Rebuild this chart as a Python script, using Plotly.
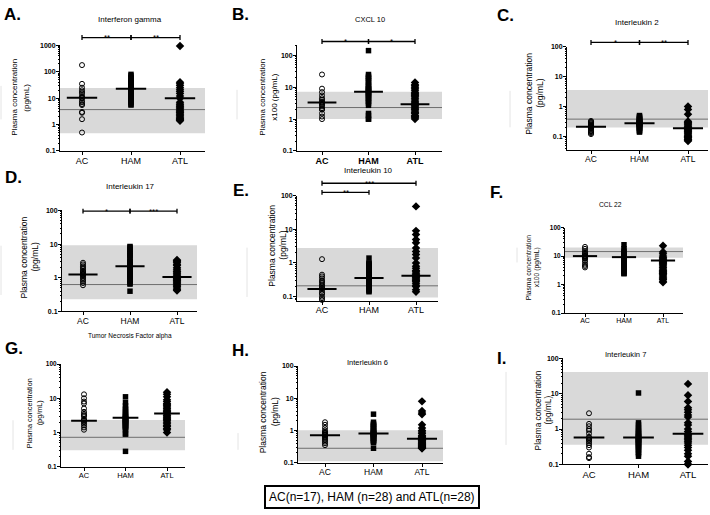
import math
import plotly.graph_objects as go

W, H = 710, 515
groups = ["AC", "HAM", "ATL"]
legend_text = "AC(n=17), HAM (n=28) and ATL(n=28)"

# ---------------- data ----------------
ifng_ac = [180, 35, 25, 20, 17, 15, 12, 10.5, 10, 8, 7, 6, 5.5, 3, 2.8, 1.6, 0.5]
ifng_ham = [80, 70, 60, 52, 46, 42, 38, 35, 32, 30, 28, 26, 24, 23, 22, 20, 18, 17, 15, 14, 12, 11, 10, 9, 8, 7, 6, 5.5]
ifng_atl = [950, 40, 35, 30, 25, 21, 18, 15, 12, 10, 7, 6, 5.5, 5, 4.5, 4, 3.6, 3.3, 3, 2.8, 2.5, 2.3, 2.1, 1.9, 1.7, 1.6, 1.5, 1.4]
ifng_median = [10.5, 23, 10]
ifng_ref = [0.47, 24.6]
ifng_refline = 3.7
ifng_sig = [("AC", "HAM", "**"), ("HAM", "ATL", "**")]

cxcl10_ac = [25, 9, 7, 5.5, 4.5, 4, 3.5, 3.3, 3, 2.8, 2.5, 2.2, 2, 2, 1.5, 1.2, 1.0]
cxcl10_ham = [140, 25, 22, 20, 18, 16, 14, 12, 11, 10, 9, 8.5, 8, 7.5, 7, 6.5, 6, 5.5, 5, 4.5, 4, 3.6, 3.2, 2.7, 1.5, 1.3, 1.0, 1.0]
cxcl10_atl = [14, 12, 11, 10, 9, 8, 7, 6.5, 6, 5.5, 5, 4.5, 4, 3.5, 3.2, 3, 2.8, 2.6, 2.4, 2.2, 2, 1.8, 1.6, 1.5, 1.3, 1.2, 1.1, 1.0]
cxcl10_median = [3.3, 7.2, 2.9]
cxcl10_ref = [1.0, 7.2]
cxcl10_refline = 2.3
cxcl10_sig = [("AC", "HAM", "*"), ("HAM", "ATL", "*")]

il2_ac = [0.33, 0.31, 0.29, 0.27, 0.25, 0.24, 0.23, 0.22, 0.21, 0.2, 0.19, 0.18, 0.16, 0.15, 0.14, 0.13, 0.12]
il2_ham = [0.5, 0.46, 0.43, 0.4, 0.38, 0.36, 0.34, 0.32, 0.31, 0.3, 0.29, 0.28, 0.28, 0.27, 0.27, 0.26, 0.25, 0.24, 0.23, 0.22, 0.21, 0.2, 0.19, 0.18, 0.16, 0.15, 0.14, 0.033]
il2_atl = [1.0, 0.8, 0.55, 0.32, 0.3, 0.28, 0.26, 0.24, 0.22, 0.2, 0.2, 0.19, 0.18, 0.17, 0.16, 0.15, 0.14, 0.13, 0.12, 0.11, 0.1, 0.1, 0.09, 0.09, 0.08, 0.08, 0.075, 0.07]
il2_median = [0.21, 0.275, 0.19]
il2_ref = [0.2, 3.55]
il2_refline = 0.38
il2_sig = [("AC", "HAM", "*"), ("HAM", "ATL", "**")]

il17_ac = [2.8, 2.5, 2.2, 2.0, 1.8, 1.6, 1.5, 1.4, 1.3, 1.25, 1.2, 1.1, 1.0, 0.9, 0.8, 0.7, 0.6]
il17_ham = [8.5, 8, 7, 6, 5.5, 5, 4.5, 4, 3.5, 3, 2.8, 2.5, 2.3, 2.2, 2.1, 2, 1.8, 1.6, 1.4, 1.3, 1.2, 1.1, 1.0, 0.9, 0.8, 0.7, 0.65, 0.4]
il17_atl = [3.4, 3.2, 3, 2.8, 2.5, 2.3, 2, 1.8, 1.6, 1.5, 1.4, 1.3, 1.2, 1.1, 1.05, 1.0, 0.95, 0.9, 0.85, 0.8, 0.75, 0.7, 0.65, 0.6, 0.55, 0.5, 0.45, 0.42]
il17_median = [1.26, 2.2, 1.05]
il17_ref = [0.23, 9.3]
il17_refline = 0.63
il17_sig = [("AC", "HAM", "*"), ("HAM", "ATL", "***")]

il10_ac = [1.3, 0.45, 0.4, 0.35, 0.3, 0.28, 0.25, 0.22, 0.2, 0.18, 0.17, 0.15, 0.13, 0.12, 0.1, 0.09, 0.08]
il10_ham = [1.4, 1.0, 0.95, 0.9, 0.85, 0.8, 0.7, 0.65, 0.6, 0.55, 0.5, 0.45, 0.42, 0.4, 0.38, 0.36, 0.34, 0.32, 0.3, 0.28, 0.26, 0.24, 0.22, 0.2, 0.18, 0.16, 0.15, 0.14]
il10_atl = [48, 9, 7, 5, 4, 2.8, 2.2, 1.8, 1.4, 1.0, 0.8, 0.7, 0.6, 0.55, 0.5, 0.45, 0.42, 0.4, 0.38, 0.35, 0.32, 0.3, 0.28, 0.25, 0.22, 0.2, 0.16, 0.14]
il10_median = [0.17, 0.36, 0.42]
il10_ref = [0.095, 2.8]
il10_refline = 0.21
il10_sig = [("AC", "ATL", "***"), ("AC", "HAM", "**")]

ccl22_ac = [21, 18, 15, 13, 12, 11, 10, 10, 9.5, 9, 8.5, 8, 7, 6, 5, 4.5, 4]
ccl22_ham = [25, 18, 15, 13, 12, 11, 10.5, 10, 9.5, 9, 8.7, 8.3, 8, 7.5, 7, 6.8, 6.5, 6, 5.5, 5, 4.5, 4.2, 4, 3.5, 3, 2.8, 2.5, 2.4]
ccl22_atl = [23, 14, 12, 10, 9, 8, 7.5, 7, 6.5, 6, 5.5, 5, 4.5, 4, 3.5, 3.2, 3, 2.8, 2.6, 2.5, 2.4, 2.2, 2, 1.8, 1.6, 1.5, 1.3, 1.2]
ccl22_median = [10, 9.2, 7]
ccl22_ref = [8.7, 20]
ccl22_refline = 14.4
ccl22_sig = []

tnf_ac = [13, 10, 8, 7, 5, 4, 3.5, 3.2, 3, 2.5, 2.3, 2.2, 2, 1.8, 1.6, 1.4, 1.2]
tnf_ham = [11, 7.5, 6, 5, 4.5, 4, 3.5, 3.2, 3, 2.8, 2.6, 2.5, 2.4, 2.3, 2.2, 2.1, 2, 1.9, 1.8, 1.7, 1.6, 1.5, 1.4, 1.3, 1.2, 0.9, 0.9, 0.28]
tnf_atl = [15, 13, 11, 9, 8, 7, 6.5, 6, 5.5, 5, 4.5, 4.2, 4, 3.7, 3.5, 3.2, 3, 2.8, 2.6, 2.4, 2.2, 2, 1.8, 1.6, 1.5, 1.3, 1.2, 1.0]
tnf_median = [2.2, 2.7, 3.6]
tnf_ref = [0.3, 2.3]
tnf_refline = 0.72
tnf_sig = []

il6_ac = [1.8, 1.5, 1.2, 1.0, 0.9, 0.85, 0.8, 0.75, 0.72, 0.7, 0.65, 0.6, 0.55, 0.5, 0.45, 0.4, 0.35]
il6_ham = [3.2, 1.8, 1.6, 1.5, 1.4, 1.3, 1.2, 1.1, 1.0, 0.95, 0.9, 0.85, 0.82, 0.8, 0.78, 0.75, 0.72, 0.7, 0.68, 0.65, 0.6, 0.58, 0.55, 0.5, 0.48, 0.45, 0.42, 0.28]
il6_atl = [8, 4, 3.5, 3.2, 1.5, 1.2, 1.0, 0.9, 0.8, 0.7, 0.65, 0.6, 0.55, 0.52, 0.5, 0.48, 0.45, 0.42, 0.4, 0.38, 0.36, 0.35, 0.33, 0.32, 0.3, 0.3, 0.28, 0.28]
il6_median = [0.71, 0.8, 0.55]
il6_ref = [0.11, 1.02]
il6_refline = 0.28
il6_sig = []

il7_ac = [2.8, 1.4, 1.2, 1.0, 0.9, 0.75, 0.6, 0.55, 0.5, 0.5, 0.45, 0.4, 0.35, 0.3, 0.2, 0.16, 0.15]
il7_ham = [10.5, 1.5, 1.3, 1.1, 1.0, 0.9, 0.8, 0.75, 0.7, 0.65, 0.6, 0.58, 0.55, 0.52, 0.5, 0.48, 0.45, 0.42, 0.4, 0.38, 0.35, 0.32, 0.3, 0.28, 0.25, 0.22, 0.2, 0.17]
il7_atl = [19, 9, 6, 4, 3.5, 3, 2.5, 2.2, 1.5, 1.3, 1.0, 0.85, 0.75, 0.7, 0.65, 0.6, 0.55, 0.5, 0.45, 0.4, 0.35, 0.3, 0.25, 0.2, 0.17, 0.12, 0.1, 0.1]
il7_median = [0.58, 0.58, 0.74]
il7_ref = [0.36, 41]
il7_refline = 1.9
il7_sig = []

panels = [
    dict(letter="A.", title="Interferon gamma", unit="(pg/mL)", vals=[ifng_ac, ifng_ham, ifng_atl],
         med=ifng_median, ref=ifng_ref, refline=ifng_refline, sig=ifng_sig),
    dict(letter="B.", title="CXCL 10", unit="x100 (pg/mL)", vals=[cxcl10_ac, cxcl10_ham, cxcl10_atl],
         med=cxcl10_median, ref=cxcl10_ref, refline=cxcl10_refline, sig=cxcl10_sig),
    dict(letter="C.", title="Interleukin 2", unit="(pg/mL)", vals=[il2_ac, il2_ham, il2_atl],
         med=il2_median, ref=il2_ref, refline=il2_refline, sig=il2_sig),
    dict(letter="D.", title="Interleukin 17", unit="(pg/mL)", vals=[il17_ac, il17_ham, il17_atl],
         med=il17_median, ref=il17_ref, refline=il17_refline, sig=il17_sig),
    dict(letter="E.", title="Interleukin 10", unit="(pg/mL)", vals=[il10_ac, il10_ham, il10_atl],
         med=il10_median, ref=il10_ref, refline=il10_refline, sig=il10_sig),
    dict(letter="F.", title="CCL 22", unit="x100 (pg/mL)", vals=[ccl22_ac, ccl22_ham, ccl22_atl],
         med=ccl22_median, ref=ccl22_ref, refline=ccl22_refline, sig=ccl22_sig),
    dict(letter="G.", title="Tumor Necrosis Factor alpha", unit="(pg/mL)", vals=[tnf_ac, tnf_ham, tnf_atl],
         med=tnf_median, ref=tnf_ref, refline=tnf_refline, sig=tnf_sig),
    dict(letter="H.", title="Interleukin 6", unit="(pg/mL)", vals=[il6_ac, il6_ham, il6_atl],
         med=il6_median, ref=il6_ref, refline=il6_refline, sig=il6_sig),
    dict(letter="I.", title="Interleukin 7", unit="(pg/mL)", vals=[il7_ac, il7_ham, il7_atl],
         med=il7_median, ref=il7_ref, refline=il7_refline, sig=il7_sig),
]

# ---------------- layout geometry (pixels) ----------------
geom = [
    dict(x0=60, x1=205, c0=82, c2=180, lo=(0.1, 149), hi=(1000, 42), ybot=149, ytop=42,
         tfs=7, xfs=9, xbold=False, title=(130, 16, 8), yt=(15, 27, 95, 8), let=(2, 11), sigy=[34, 34]),
    dict(x0=297, x1=442, c0=322, c2=415, lo=(0.1, 149), hi=(100, 52), ybot=149, ytop=42,
         tfs=7, xfs=9, xbold=True, title=(370, 16, 7.5), yt=(263, 275, 95, 8), let=(230, 11), sigy=[38, 38]),
    dict(x0=567, x1=708, c0=591, c2=688, lo=(0.1, 134.3), hi=(100, 43.3), ybot=148.3, ytop=43.3,
         tfs=7, xfs=8.5, xbold=False, title=(637, 19, 8), yt=(529, 540, 91, 8.5), let=(495, 12), sigy=[39, 39]),
    dict(x0=62, x1=197, c0=83, c2=177, lo=(0.1, 311.7), hi=(100, 209.3), ybot=311.7, ytop=209.3,
         tfs=7, xfs=8.5, xbold=False, title=(130, 185, 8), yt=(24, 35, 257, 8.5), let=(3, 176), sigy=[210, 210]),
    dict(x0=297, x1=438, c0=322, c2=416, lo=(0.1, 296.7), hi=(100, 194.3), ybot=300.7, ytop=194.3,
         tfs=7, xfs=9, xbold=False, title=(368, 169, 8), yt=(272, 283, 245, 8.5), let=(231, 189), sigy=[181.7, 191]),
    dict(x0=565, x1=683, c0=585, c2=663, lo=(0.1, 313.3), hi=(100, 226.7), ybot=313.3, ytop=226.7,
         tfs=6.5, xfs=7, xbold=False, title=(610, 203, 6.7), yt=(528, 537, 267, 6.8), let=(488, 191), sigy=[]),
    dict(x0=61, x1=185, c0=84, c2=167, lo=(0.1, 469), hi=(100, 365), ybot=469, ytop=365,
         tfs=6.5, xfs=7.5, xbold=False, title=(130, 337, 6.5), yt=(29, 39, 415, 7.3), let=(3, 349), sigy=[]),
    dict(x0=298, x1=443, c0=325, c2=422, lo=(0.1, 465), hi=(100, 367), ybot=465, ytop=367,
         tfs=7, xfs=8.5, xbold=False, title=(367, 363, 7.5), yt=(263, 275, 414, 8.5), let=(230, 351), sigy=[]),
    dict(x0=563, x1=708, c0=589, c2=688, lo=(0.1, 466.7), hi=(100, 359.3), ybot=466.7, ytop=359.3,
         tfs=7, xfs=9.5, xbold=False, title=(625, 355, 7.6), yt=(538, 548, 412, 8.3), let=(495, 359), sigy=[]),
]

FONT = "Liberation Sans, Arial, Helvetica, sans-serif"
symbols = ["circle-open", "square", "diamond"]
sizes = [5, 5.5, 6.5]


def px_to_log(g, p):
    (vl, pl), (vh, ph) = g["lo"], g["hi"]
    return math.log10(vl) + (p - pl) / (ph - pl) * (math.log10(vh) - math.log10(vl))


def val_to_px(g, v):
    (vl, pl), (vh, ph) = g["lo"], g["hi"]
    t = (math.log10(v) - math.log10(vl)) / (math.log10(vh) - math.log10(vl))
    return pl + t * (ph - pl)


def cat_px(g, i):
    return g["c0"] + i * (g["c2"] - g["c0"]) / 2.0


def xp(p):
    return p / W


def yp(p):
    return 1 - p / H


fig = go.Figure()
shapes = []
annotations = []
layout_axes = {}
minor_vals = [m * 10 ** e for e in range(-2, 4) for m in range(2, 10)]

for k, (p, g) in enumerate(zip(panels, geom), start=1):
    xs = "x" if k == 1 else f"x{k}"
    ys = "y" if k == 1 else f"y{k}"
    xa = "xaxis" if k == 1 else f"xaxis{k}"
    ya = "yaxis" if k == 1 else f"yaxis{k}"

    u = 2.0 / (g["c2"] - g["c0"])
    xr = [-(g["c0"] - g["x0"]) * u, 2 + (g["x1"] - g["c2"]) * u]
    yr = [px_to_log(g, g["ybot"]), px_to_log(g, g["ytop"])]
    dec = [10.0 ** e for e in range(-2, 4) if yr[0] - 1e-6 <= e <= yr[1] + 1e-6]
    dec_txt = ["<b>%g</b>" % v for v in dec]

    tick_labels = [("<b>%s</b>" % c) if g["xbold"] else c for c in groups]
    layout_axes[xa] = dict(domain=[xp(g["x0"]), xp(g["x1"])], range=xr, anchor=ys,
                           showline=True, linecolor="black", linewidth=1, ticks="outside",
                           ticklen=3, tickcolor="black", tickwidth=1, ticklabelstandoff=-2,
                           tickvals=[0, 1, 2], ticktext=tick_labels,
                           tickfont=dict(family=FONT, size=g["xfs"], color="black"),
                           showgrid=False, zeroline=False, fixedrange=True)
    layout_axes[ya] = dict(type="log", domain=[yp(g["ybot"]), yp(g["ytop"])], range=yr, anchor=xs,
                           showline=True, linecolor="black", linewidth=1, ticks="outside",
                           ticklen=3, tickcolor="black", tickwidth=1, ticklabelstandoff=-1,
                           tickvals=dec, ticktext=dec_txt,
                           tickfont=dict(family=FONT, size=g["tfs"], color="black"),
                           minor=dict(tickmode="array", tickvals=minor_vals, ticks="outside",
                                      ticklen=1.5, tickcolor="black", tickwidth=0.8, showgrid=False),
                           showgrid=False, zeroline=False, fixedrange=True)

    # reference band + line
    shapes.append(dict(type="rect", xref="paper", yref="paper", layer="below",
                       x0=xp(g["x0"]), x1=xp(g["x1"]),
                       y0=yp(val_to_px(g, p["ref"][0])), y1=yp(val_to_px(g, p["ref"][1])),
                       fillcolor="#d9d9d9", line=dict(width=0)))
    shapes.append(dict(type="line", xref="paper", yref="paper", layer="below",
                       x0=xp(g["x0"]), x1=xp(g["x1"]),
                       y0=yp(val_to_px(g, p["refline"])), y1=yp(val_to_px(g, p["refline"])),
                       line=dict(color="#6e6e6e", width=1)))

    # points
    for gi, vals in enumerate(p["vals"]):
        mk = dict(symbol=symbols[gi], size=sizes[gi], color="black")
        if gi == 0:
            mk["line"] = dict(color="black", width=1)
        else:
            mk["line"] = dict(width=0)
        fig.add_trace(go.Scatter(x=[gi] * len(vals), y=vals, mode="markers", marker=mk,
                                 xaxis=xs, yaxis=ys, showlegend=False, cliponaxis=False,
                                 hoverinfo="y"))
    # medians
    mx, my = [], []
    for gi, m in enumerate(p["med"]):
        mx += [gi - 0.31, gi + 0.31, None]
        my += [m, m, None]
    fig.add_trace(go.Scatter(x=mx, y=my, mode="lines", line=dict(color="black", width=2),
                             xaxis=xs, yaxis=ys, showlegend=False, cliponaxis=False,
                             hoverinfo="skip"))

    # significance brackets
    for (ga, gb, lab), sy in zip(p["sig"], g["sigy"]):
        ia, ib = groups.index(ga), groups.index(gb)
        xa_px, xb_px = cat_px(g, ia), cat_px(g, ib)
        shapes.append(dict(type="line", xref="paper", yref="paper", x0=xp(xa_px), x1=xp(xb_px),
                           y0=yp(sy), y1=yp(sy), line=dict(color="black", width=1.3)))
        for cx in (xa_px, xb_px):
            shapes.append(dict(type="line", xref="paper", yref="paper", x0=xp(cx), x1=xp(cx),
                               y0=yp(sy - 2.5), y1=yp(sy + 2.5), line=dict(color="black", width=1.3)))
        annotations.append(dict(x=xp((xa_px + xb_px) / 2), y=yp(sy), xref="paper", yref="paper",
                                text=lab, showarrow=False, xanchor="center", yanchor="middle",
                                font=dict(family=FONT, size=8, color="black")))

    # panel title
    tx, ty, tfs = g["title"]
    annotations.append(dict(x=xp(tx), y=yp(ty), xref="paper", yref="paper", text=p["title"],
                            showarrow=False, xanchor="center", yanchor="middle",
                            font=dict(family=FONT, size=tfs, color="black")))
    # y-axis title (two lines)
    l1x, l2x, yc, yfs = g["yt"]
    for lx, txt in ((l1x, "Plasma concentration"), (l2x, p["unit"])):
        annotations.append(dict(x=xp(lx), y=yp(yc), xref="paper", yref="paper", text=txt,
                                showarrow=False, textangle=-90, xanchor="center", yanchor="middle",
                                font=dict(family=FONT, size=yfs, color="black")))
    # panel letter
    lx, ly = g["let"]
    annotations.append(dict(x=xp(lx), y=yp(ly), xref="paper", yref="paper", text="<b>%s</b>" % p["letter"],
                            showarrow=False, xanchor="left", yanchor="middle",
                            font=dict(family=FONT, size=17, color="black")))

# legend-like box with group sizes
annotations.append(dict(x=xp(371.5), y=yp(499.5), xref="paper", yref="paper", text=legend_text,
                        showarrow=False, xanchor="center", yanchor="middle",
                        font=dict(family=FONT, size=12, color="black"),
                        bordercolor="black", borderwidth=2, borderpad=3, bgcolor="white"))

# faint scanning artefacts (thin light-grey strokes)
for (fx, fy0, fy1) in [(1, 83, 117), (237, 87, 117), (510, 88, 125), (1, 245, 295), (247, 247, 297),
                       (517, 247, 262), (13, 422, 452), (238, 435, 452), (506, 373, 447)]:
    shapes.append(dict(type="line", xref="paper", yref="paper", x0=xp(fx), x1=xp(fx),
                       y0=yp(fy0), y1=yp(fy1), layer="below", line=dict(color="#e4e4e4", width=1)))

fig.update_layout(width=W, height=H, margin=dict(l=0, r=0, t=0, b=0),
                  paper_bgcolor="white", plot_bgcolor="rgba(0,0,0,0)",
                  shapes=shapes, annotations=annotations, showlegend=False,
                  font=dict(family=FONT, color="black"), **layout_axes)

fig.write_html("out.html", config={"displayModeBar": False},
               post_script="document.body.style.margin='0px';")
